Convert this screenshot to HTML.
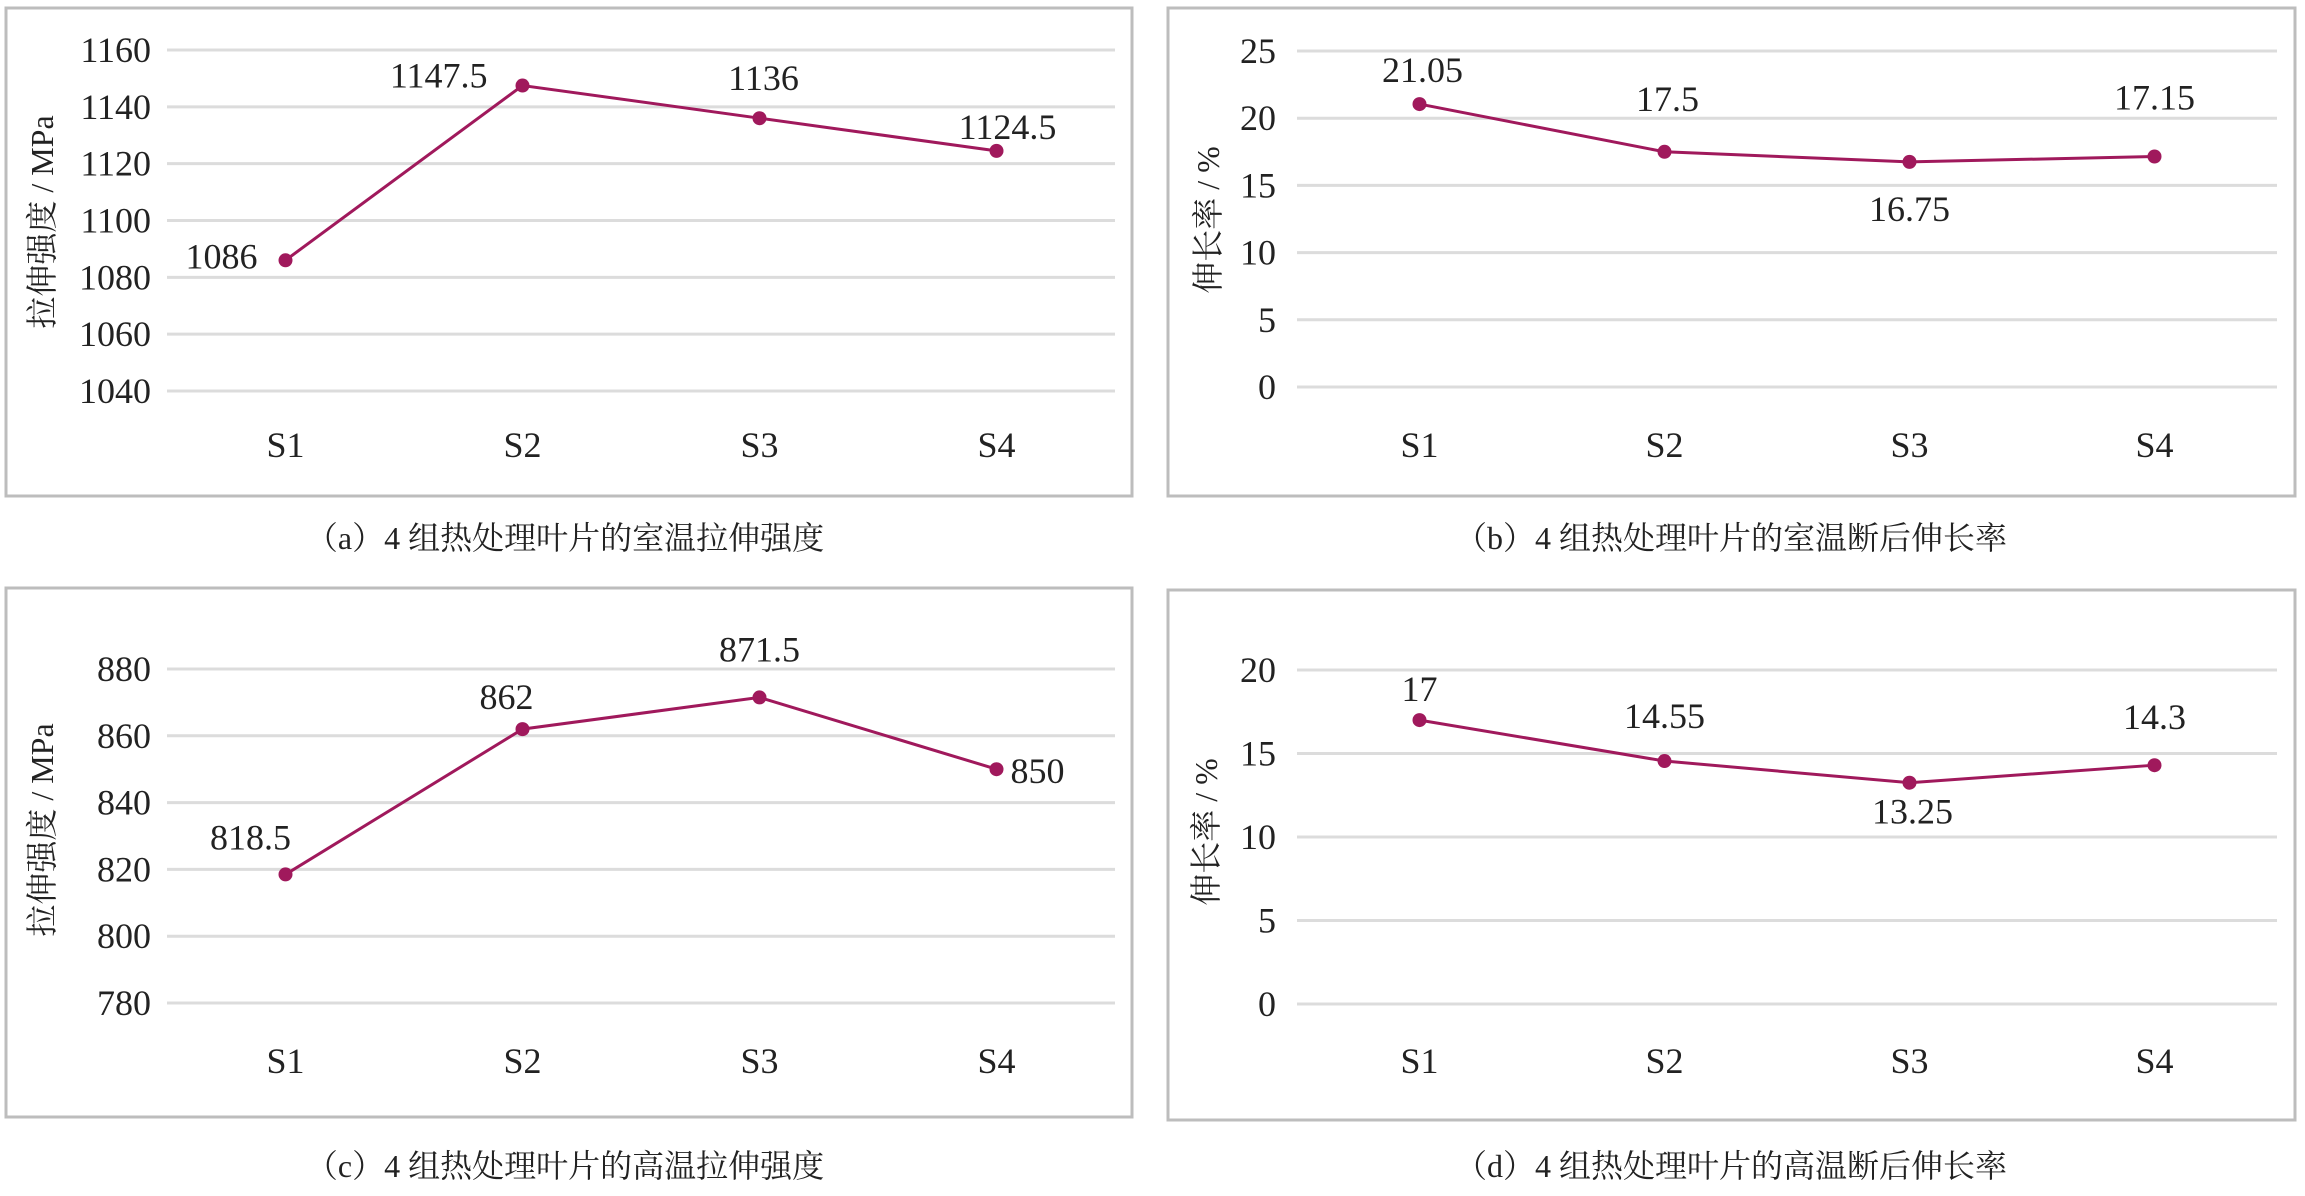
<!DOCTYPE html>
<html><head><meta charset="utf-8"><style>
html,body{margin:0;padding:0;background:#fff;}
svg text{font-family:"Liberation Serif","Noto Serif CJK SC",serif;fill:#222;}
</style></head><body>
<svg id="fig" width="2305" height="1191" viewBox="0 0 2305 1191" xmlns="http://www.w3.org/2000/svg"></svg>
<script>
const categories = ["S1","S2","S3","S4"];
const valuesA = [1086, 1147.5, 1136, 1124.5];
const valuesB = [21.05, 17.5, 16.75, 17.15];
const valuesC = [818.5, 862, 871.5, 850];
const valuesD = [17, 14.55, 13.25, 14.3];
const ticksA = [1040,1060,1080,1100,1120,1140,1160];
const ticksB = [0,5,10,15,20,25];
const ticksC = [780,800,820,840,860,880];
const ticksD = [0,5,10,15,20];
const labelsA = ["1086","1147.5","1136","1124.5"];
const labelsB = ["21.05","17.5","16.75","17.15"];
const labelsC = ["818.5","862","871.5","850"];
const labelsD = ["17","14.55","13.25","14.3"];
const captionA = "（a）4 组热处理叶片的室温拉伸强度";
const captionB = "（b）4 组热处理叶片的室温断后伸长率";
const captionC = "（c）4 组热处理叶片的高温拉伸强度";
const captionD = "（d）4 组热处理叶片的高温断后伸长率";

const NS = "http://www.w3.org/2000/svg";
const svg = document.getElementById("fig");
const COLOR = "#a0195c";
function mk(tag, attrs, parent){
  const e = document.createElementNS(NS, tag);
  for (const k in attrs) e.setAttribute(k, attrs[k]);
  parent.appendChild(e);
  return e;
}
function panel(cfg){
  const g = mk("g", {}, svg);
  
  
  const box = mk("rect", {x:cfg.bx, y:cfg.by, width:cfg.bw, height:cfg.bh, fill:"#fff", stroke:"#bdbdbd", "stroke-width":3}, g);
  
  
  const tmin = cfg.ticks[0], tmax = cfg.ticks[cfg.ticks.length-1];
  const yS = v => cfg.y0 + (v - tmin) / (tmax - tmin) * (cfg.y1 - cfg.y0);
  const bw = (cfg.px1 - cfg.px0) / categories.length;
  const xS = i => cfg.px0 + (i + 0.5) * bw;
  cfg.ticks.forEach(t => {
    const ln = mk("line", {x1:cfg.px0, x2:cfg.px1, y1:yS(t), y2:yS(t), stroke:"#dcdcdc", "stroke-width":3}, g);
    
    
    const tx = mk("text", {x:cfg.tickX, y:yS(t), "text-anchor":"end", "dominant-baseline":"central", "font-size":36}, g);
    tx.textContent = String(t);
    
    
  });
  categories.forEach((c, i) => {
    const tx = mk("text", {x:xS(i), y:cfg.xLabY, "text-anchor":"middle", "dominant-baseline":"central", "font-size":36}, g);
    tx.textContent = c;
    
    
  });
  const yt = mk("text", {x:0, y:0, "text-anchor":"middle", "dominant-baseline":"central", "font-size":32, transform:`translate(${cfg.ytX},${cfg.ytY}) rotate(-90)`}, g);
  yt.textContent = cfg.ytitle;
  
  
  const pts = cfg.values.map((v, i) => xS(i) + "," + yS(v)).join(" ");
  const pl = mk("polyline", {points:pts, fill:"none", stroke:COLOR, "stroke-width":3}, g);
  
  
  cfg.values.forEach((v, i) => {
    const c = mk("circle", {cx:xS(i), cy:yS(v), r:7, fill:COLOR}, g);
    
    
    const o = cfg.off[i];
    const tx = mk("text", {x:xS(i) + o[0], y:yS(v) + o[1], "text-anchor":o[2], "dominant-baseline":"central", "font-size":36}, g);
    tx.textContent = cfg.labels[i];
    
    
  });
  const cap = mk("text", {x:cfg.capX, y:cfg.capY, "text-anchor":"middle", "dominant-baseline":"central", "font-size":32}, g);
  cap.textContent = cfg.caption;
  
  
}
panel({name:"chart-a", bx:6, by:8, bw:1126, bh:488, px0:167, px1:1115, y0:391, y1:50, ticks:ticksA, values:valuesA, labels:labelsA,
  tickX:151, xLabY:445, ytX:42, ytY:222, ytitle:"拉伸强度 / MPa", capX:565, capY:538, caption:captionA,
  off:[[-28,-4,"end"],[-35,-10,"end"],[4,-40,"middle"],[11,-24,"middle"]]});
panel({name:"chart-b", bx:1168, by:8, bw:1127, bh:488, px0:1297, px1:2277, y0:387, y1:51, ticks:ticksB, values:valuesB, labels:labelsB,
  tickX:1276, xLabY:445, ytX:1208, ytY:220, ytitle:"伸长率 / %", capX:1731, capY:538, caption:captionB,
  off:[[3,-34,"middle"],[3,-53,"middle"],[0,47,"middle"],[0,-59,"middle"]]});
panel({name:"chart-c", bx:6, by:588, bw:1126, bh:529, px0:167, px1:1115, y0:1003, y1:669, ticks:ticksC, values:valuesC, labels:labelsC,
  tickX:151, xLabY:1061, ytX:42, ytY:830, ytitle:"拉伸强度 / MPa", capX:565, capY:1166, caption:captionC,
  off:[[-35,-37,"middle"],[-16,-32,"middle"],[0,-48,"middle"],[14,2,"start"]]});
panel({name:"chart-d", bx:1168, by:590, bw:1127, bh:530, px0:1297, px1:2277, y0:1004, y1:670, ticks:ticksD, values:valuesD, labels:labelsD,
  tickX:1276, xLabY:1061, ytX:1206, ytY:832, ytitle:"伸长率 / %", capX:1731, capY:1166, caption:captionD,
  off:[[0,-31,"middle"],[0,-45,"middle"],[3,29,"middle"],[0,-48,"middle"]]});
</script>
</body></html>
